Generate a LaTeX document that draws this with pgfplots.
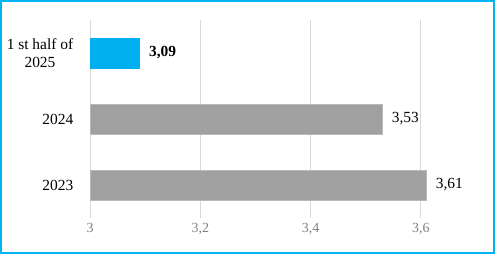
\documentclass[border=0pt]{standalone}
\usepackage{pgfplots}
\pgfplotsset{compat=1.18}
\usepackage{fontspec}
\setmainfont{Liberation Serif}
\definecolor{barblue}{RGB}{0,176,240}
\definecolor{bargray}{RGB}{160,160,160}
\definecolor{bargrayedge}{RGB}{185,185,185}
\definecolor{framecol}{RGB}{0,180,240}
\definecolor{gridcol}{RGB}{217,217,217}
\definecolor{tickcol}{RGB}{128,128,128}
\begin{document}
\begin{tikzpicture}
\useasboundingbox (0,0) rectangle (495bp,254bp);
\begin{axis}[
  at={(90bp,36bp)}, anchor=south west,
  scale only axis, width=375bp, height=198bp,
  xbar, bar width=30bp, bar shift=0pt,
  xmin=3, xmax=3.68, ymin=-0.5, ymax=2.5,
  xtick={3,3.2,3.4,3.6}, xticklabels={3,{3,2},{3,4},{3,6}},
  ytick={0,1,2}, yticklabels={2023,2024,{1 st\ half of\\2025}},
  axis line style={draw=none}, tick style={draw=none},
  xmajorgrids, grid style={gridcol, line width=1bp},
  /pgf/number format/assume math mode=true,
  xticklabel style={font=\fontsize{14}{16}\selectfont, text=tickcol, yshift=-2bp},
  yticklabel style={font=\fontsize{15.5}{18.5}\selectfont, align=center, xshift=-9bp},
  nodes near coords, point meta=explicit symbolic,
  nodes near coords style={anchor=west, font=\fontsize{15.5}{18}\selectfont, xshift=6bp},
  clip=false,
]
\addplot[fill=bargray, draw=bargrayedge] coordinates {(3.61,0) [3,61]};
\addplot[fill=bargray, draw=bargrayedge] coordinates {(3.53,1) [3,53]};
\addplot[fill=barblue, draw=barblue, nodes near coords style={font=\fontsize{15.5}{18}\selectfont\bfseries}] coordinates {(3.09,2) [3,09]};
\end{axis}
\draw[framecol, line width=2bp] (1bp,1bp) rectangle (494bp,253bp);
\end{tikzpicture}
\end{document}
